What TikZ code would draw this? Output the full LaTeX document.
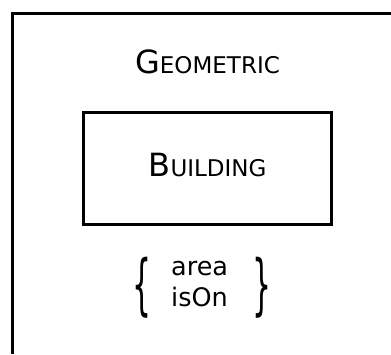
\documentclass[tikz,border=0pt]{standalone}
\usepackage{fontspec}
\setmainfont{DejaVu Sans}
\usetikzlibrary{positioning}

% hand-made small capitals: big initial, smaller rest
\newcommand{\capsname}[2]{{\fontsize{32}{32}\selectfont #1}{\fontsize{23}{23}\selectfont #2}}
\newcommand{\bigbrace}[1]{\scalebox{1.15}[2.55]{\fontsize{26}{26}\selectfont #1}}

\begin{document}
\begin{tikzpicture}[x=1pt,y=1pt,
  classbox/.style={draw,line width=3pt,minimum width=248pt,minimum height=112pt,inner sep=0pt},
  attr/.style={anchor=base west,inner sep=0pt,font=\fontsize{25.5}{25.5}\selectfont}]
\useasboundingbox (0,0) rectangle (391,354);
% open frame: only the left and top edges are drawn
\coordinate (framebot) at (12.5,0);
\coordinate (framecorner) at (12.5,340.5);
\coordinate (frameend) at (391,340.5);
\draw[line width=3pt] (framebot) -- (framecorner) -- (frameend);

\node[anchor=base,inner sep=0pt] (geometric) at (207.5,280) {\capsname{G}{EOMETRIC}};
\node[classbox] (building) at (207.5,185.5) {};
\node[anchor=base,inner sep=0pt] (buildingname) at (207.5,178) {\capsname{B}{UILDING}};

\node[attr] (area) at (171,79) {area};
\node[attr] (ison) at (171,47.3) {isOn};
\node[inner sep=0pt] (lbrace) at (142,66.5) {\bigbrace{\{}};
\node[inner sep=0pt] (rbrace) at (262,66.5) {\bigbrace{\}}};
\end{tikzpicture}
\end{document}
